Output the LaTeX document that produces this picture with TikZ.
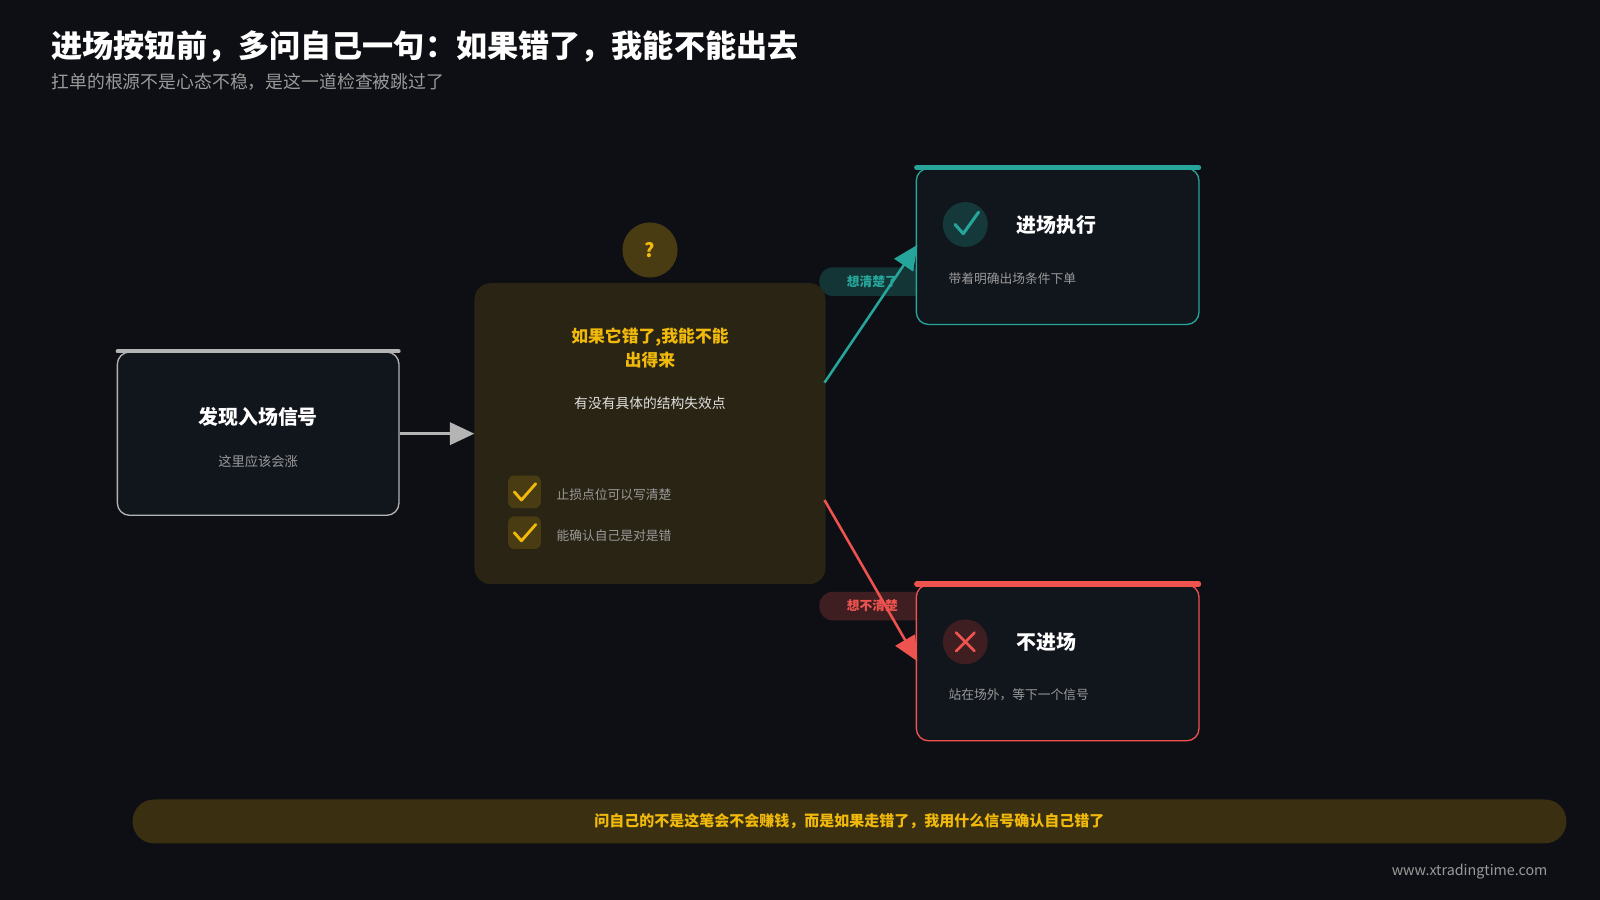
\documentclass[tikz,border=0pt]{standalone}
\usepackage{fontspec}
\setmainfont{Noto Sans CJK SC}
\usetikzlibrary{arrows.meta,positioning}
\definecolor{bg}{HTML}{0E0F14}
\definecolor{card}{HTML}{11151C}
\definecolor{cgray}{HTML}{B4B4B4}
\definecolor{ctxt}{HTML}{9A9A9A}
\definecolor{cyel}{HTML}{F0B90B}
\definecolor{cmid}{HTML}{2A2414}
\definecolor{cyelb}{HTML}{4A3C12}
\definecolor{cteal}{HTML}{26A69A}
\definecolor{cred}{HTML}{EF5350}
\definecolor{cbar}{HTML}{3A3011}
\tikzset{
  card/.style={draw, line width=1.3pt, fill=card, rounded corners=12pt, inner sep=0pt},
  ctitle/.style={text=white, font=\fontsize{19.5}{22}\selectfont\bfseries},
  csub/.style={text=ctxt, font=\fontsize{13}{15}\selectfont},
  pill/.style={rounded corners=13pt, minimum width=104pt, minimum height=28pt, font=\fontsize{12.5}{14}\selectfont\bfseries},
  tick/.style={fill=cyelb, rounded corners=6pt, minimum size=32pt},
  flow/.style={line width=2.5pt, -{Triangle[length=24pt,width=22pt]}}
}
\begin{document}
\begin{tikzpicture}[x=1pt,y=-1pt]
        % Background
        \fill[bg] (0,0) rectangle (1568,882);
        \useasboundingbox (0,0) rectangle (1568,882);
        \node (title) [anchor=west, text=white, font=\fontsize{30.5}{34}\selectfont\bfseries] at (47,46) {进场按钮前，多问自己一句：如果错了，我能不能出去};
        \node (subtitle) [anchor=west, text=ctxt, font=\fontsize{17.5}{20}\selectfont] at (47,80) {扛单的根源不是心态不稳，是这一道检查被跳过了};

        % Labels on the branches
        \node (yeslbl) [pill, fill=cteal!25!bg, text=cteal] at (855,276) {想清楚了};
        \node (nolbl) [pill, fill=cred!22!bg, text=cred] at (855,594) {想不清楚};

        % Left card
        \node (signal) [card, draw=cgray, minimum width=276pt, minimum height=160pt] at (253,425) {};
        \draw[cgray, line width=4pt, line cap=round] (signal.north west) ++(1,0) -- ([xshift=-1pt]signal.north east);
        \node (signalt) [ctitle] at (253,409) {发现入场信号};
        \node (signals) [csub] at (253,452) {这里应该会涨};

        % Middle card
        \node (check) [fill=cmid, rounded corners=16pt, minimum width=344pt, minimum height=295pt] at (637,425) {};
        \node (qmark) [circle, fill=cyelb, minimum size=54pt, text=cyel, font=\fontsize{19}{22}\selectfont\bfseries] at (637,245) {?};
        \node (checkt) [text=cyel, align=center, font=\fontsize{16.5}{24}\selectfont\bfseries] at (637,341) {如果它错了,我能不能\\出得来};
        \node (checks) [text=white!88!black, font=\fontsize{13.5}{16}\selectfont] at (637,395) {有没有具体的结构失效点};
        \foreach \y/\txt [count=\i] in {482/止损点位可以写清楚, 522/能确认自己是对是错} {
          \node (tick\i) [tick] at (514,\y) {};
          \draw[cyel, line width=2.8pt, line cap=round, line join=round] (504,\y) -- (511,\y+8) -- (525,\y-8);
          \node (item\i) [csub, anchor=west, font=\fontsize{12.5}{14}\selectfont] at (542,\y+3) {\txt};
        }

        % Yes card
        \node (go) [card, draw=cteal, minimum width=277pt, minimum height=153pt] at (1036.5,241.5) {};
        \draw[cteal, line width=5pt, line cap=round] ([xshift=1pt]go.north west) -- ([xshift=-1pt]go.north east);
        \node (goicon) [circle, fill=cteal!28!bg, minimum size=44pt] at (946,220) {};
        \draw[cteal, line width=3pt, line cap=round, line join=round] (936,220) -- (944,229) -- (959,208);
        \node (got) [ctitle, anchor=west] at (993,221) {进场执行};
        \node (gos) [csub, anchor=west, font=\fontsize{12.5}{14}\selectfont] at (926,273) {带着明确出场条件下单};

        % No card
        \node (stop) [card, draw=cred, minimum width=277pt, minimum height=153pt] at (1036.5,649.5) {};
        \draw[cred, line width=5pt, line cap=round] ([xshift=1pt]stop.north west) -- ([xshift=-1pt]stop.north east);
        \node (stopicon) [circle, fill=cred!22!bg, minimum size=44pt] at (946,629) {};
        \draw[cred, line width=2.6pt, line cap=round] (937,620) -- (955,638) (955,620) -- (937,638);
        \node (stopt) [ctitle, anchor=west] at (993,629) {不进场};
        \node (stops) [csub, anchor=west, font=\fontsize{12.5}{14}\selectfont] at (926,681) {站在场外，等下一个信号};

        % Connectors
        \coordinate (yesfrom) at (808,375);
        \coordinate (yesto) at (899,240);
        \coordinate (nofrom) at (808,490);
        \coordinate (noto) at (899,648);
        \draw[flow, cgray] (signal.east) -- (check.west);
        \draw[flow, cteal] (yesfrom) -- (yesto);
        \draw[flow, cred] (nofrom) -- (noto);

        % Bottom note
        \node (note) [fill=cbar, rounded corners=21pt, minimum width=1405pt, minimum height=43pt, text=cyel, font=\fontsize{14.7}{17}\selectfont\bfseries] at (832.5,805) {问自己的不是这笔会不会赚钱，而是如果走错了，我用什么信号确认自己错了};
        \node (site) [anchor=east, text=ctxt, font=\fontsize{14}{17}\selectfont] at (1520,854) {www.xtradingtime.com};
\end{tikzpicture}
\end{document}
